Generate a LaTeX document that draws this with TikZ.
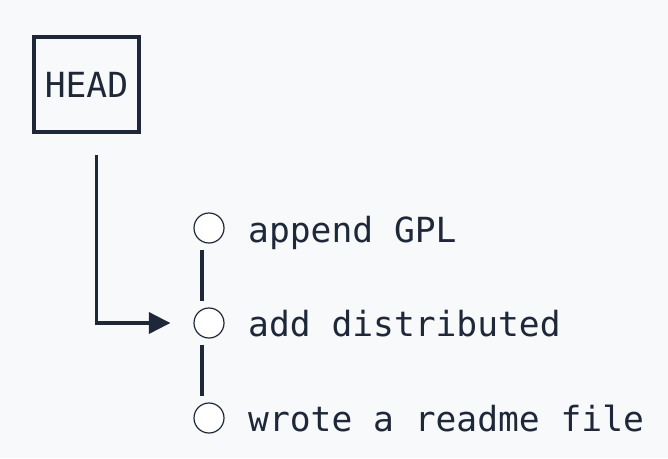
\documentclass[tikz,border=0pt]{standalone}
\usepackage{fontspec}
\setmonofont{DejaVu Sans Mono}
\usetikzlibrary{arrows.meta}
\definecolor{ink}{HTML}{1E2838}
\definecolor{bg}{HTML}{F8F9FB}
\begin{document}
\begin{tikzpicture}[x=1pt,y=-1pt,
  every node/.style={font=\ttfamily\fontsize{34.6}{40}\selectfont, text=ink},
  refbox/.style={draw=ink, line width=3.5pt, minimum width=105pt, minimum height=95pt, inner sep=0pt},
  commit/.style={circle, draw=ink, line width=1.2pt, minimum size=30pt, inner sep=0pt, fill=white},
  msg/.style={anchor=base west, inner sep=0pt},
  link/.style={draw=ink, line width=3.3pt},
  pointer/.style={draw=ink, line width=3.5pt, -{Triangle[length=21.5pt,width=21pt]}}
]
\fill[bg] (0,0) rectangle (668,458);
\useasboundingbox (0,0) rectangle (668,458);

\node[refbox] (head) at (86.5,84.5) {HEAD};

\node[commit] (c1) at (209,228) {};
\node[commit] (c2) at (209,323) {};
\node[commit] (c3) at (209,418) {};

\node[msg] (m1) at (248,242) {append GPL};
\node[msg] (m2) at (248,336) {add distributed};
\node[msg] (m3) at (248,431) {wrote a readme file};

\coordinate (hstart) at (96.7,155);
\draw[pointer, shorten >=23pt] (hstart) |- (c2);

\draw[link, shorten <=6pt, shorten >=6pt] ([xshift=-7pt]c1.south) -- ([xshift=-7pt]c2.north);
\draw[link, shorten <=6pt, shorten >=6pt] ([xshift=-7pt]c2.south) -- ([xshift=-7pt]c3.north);
\end{tikzpicture}
\end{document}
